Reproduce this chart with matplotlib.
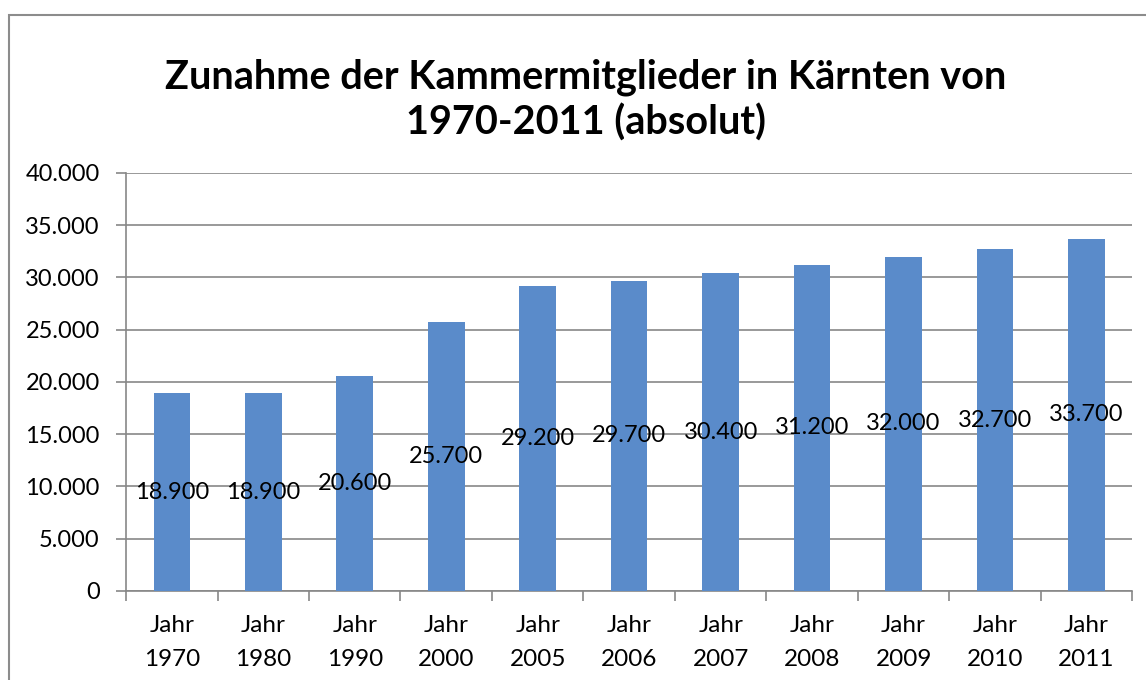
import numpy as np
import matplotlib.pyplot as plt
from matplotlib.patches import Rectangle
from matplotlib.ticker import FuncFormatter, MultipleLocator

# Kammermitglieder Kärnten (absolut)
categories = ['Jahr\n1970', 'Jahr\n1980', 'Jahr\n1990', 'Jahr\n2000', 'Jahr\n2005',
              'Jahr\n2006', 'Jahr\n2007', 'Jahr\n2008', 'Jahr\n2009', 'Jahr\n2010',
              'Jahr\n2011']
members = [18900, 18900, 20600, 25700, 29200, 29700, 30400, 31200, 32000, 32700, 33700]

plt.rcParams['font.family'] = ['Lato', 'DejaVu Sans']

def de_fmt(v, pos=None):
    # German thousands separator
    return f'{int(v):,}'.replace(',', '.')

fig = plt.figure(figsize=(11.46, 6.8), dpi=100)
ax = fig.add_axes([0.110, 0.1309, 0.878, 0.6147])

# outer chart border (cut off at right and bottom like in the original)
fig.patches.append(Rectangle((9 / 1146, -0.1), 1.2, (680 - 15) / 680 + 0.1,
                             transform=fig.transFigure, fill=False,
                             edgecolor='#8c8c8c', linewidth=1.5, zorder=0))

x = np.arange(len(categories))
bars = ax.bar(x, members, width=0.4, color='#5A8BCA', zorder=3)

for xi, v in zip(x, members):
    ax.text(xi, v / 2, de_fmt(v), ha='center', va='center', fontsize=17, zorder=4)

ax.set_xlim(-0.5, len(categories) - 0.5)
ax.set_ylim(0, 40000)
ax.yaxis.set_major_locator(MultipleLocator(5000))
ax.yaxis.set_major_formatter(FuncFormatter(de_fmt))
ax.grid(axis='y', color='#878787', linewidth=1.2, zorder=0)

# category ticks sit between bars, labels centred under them
ax.set_xticks(np.arange(-0.5, len(categories), 1.0))
ax.set_xticklabels([])
ax.set_xticks(x, minor=True)
ax.set_xticklabels(categories, minor=True, fontsize=17.5, linespacing=1.8)
ax.tick_params(axis='x', which='minor', length=0, pad=17)
ax.tick_params(axis='x', which='major', length=7, width=1.2, color='#878787')
ax.tick_params(axis='y', length=7, width=1.2, color='#878787', labelsize=17, pad=12)

for side in ['top', 'right']:
    ax.spines[side].set_visible(False)
for side in ['left', 'bottom']:
    ax.spines[side].set_color('#878787')
    ax.spines[side].set_linewidth(1.2)

fig.text(0.511, 0.853, 'Zunahme der Kammermitglieder in Kärnten von\n1970-2011 (absolut)',
         ha='center', va='center', fontsize=28.5, fontweight='bold', linespacing=1.25)

fig.savefig('out.png', dpi=100)
